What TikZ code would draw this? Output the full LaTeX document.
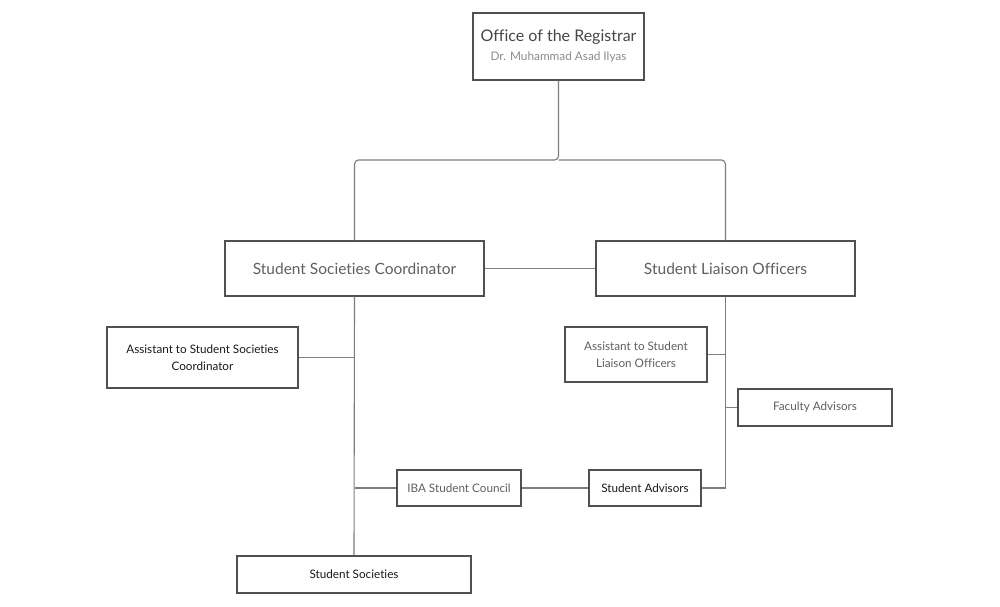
\documentclass[tikz,border=0pt]{standalone}
\usepackage{fontspec}
\setmainfont{Lato}[Ligatures={NoCommon}]
\usetikzlibrary{positioning}
\definecolor{boxline}{RGB}{80,80,80}
\definecolor{linkgray}{RGB}{125,125,125}
\definecolor{textgray}{RGB}{95,95,95}
\definecolor{subgray}{RGB}{140,140,140}
\definecolor{textdark}{RGB}{25,25,25}
\tikzset{
  orgbox/.style={draw=boxline, line width=1.1pt, fill=white, align=center, inner sep=0pt},
  bigtext/.style={font=\fontsize{15.5}{18}\selectfont},
  smalltext/.style={font=\fontsize{11.7}{17}\selectfont},
  link/.style={draw=linkgray, line width=1.1pt},
}

\begin{document}
\begin{tikzpicture}[x=1pt, y=-1pt]
  \useasboundingbox[fill=white] (0,0) rectangle (1000,606);

  % top of the chart
  \node[orgbox, minimum width=171pt, minimum height=67pt] (reg) at (558.5,46.5) {%
    {\fontsize{16}{19}\selectfont\color{textgray!75!black}Office of the Registrar}\\[7pt]
    {\fontsize{11.8}{14}\selectfont\color{subgray}Dr. Muhammad Asad Ilyas}};

  % second level
  \node[orgbox, bigtext, minimum width=259pt, minimum height=55pt, text=textgray] (ssc) at (354.5,268.5) {Student Societies Coordinator};
  \node[orgbox, bigtext, minimum width=259pt, minimum height=55pt, text=textgray] (slo) at (725.5,268.5) {Student Liaison Officers};

  % left branch
  \node[orgbox, smalltext, minimum width=191pt, minimum height=61pt, text=textdark] (asc) at (202.5,357.5) {Assistant to Student Societies\\Coordinator};
  \node[orgbox, smalltext, minimum width=124pt, minimum height=36pt, text=textgray] (iba) at (459,488) {IBA Student Council};
  \node[orgbox, smalltext, minimum width=234pt, minimum height=37pt, text=textdark] (soc) at (354,574.5) {Student Societies};

  % right branch
  \node[orgbox, smalltext, minimum width=142pt, minimum height=55pt, text=textgray] (asl) at (636,354.5) {Assistant to Student\\Liaison Officers};
  \node[orgbox, smalltext, minimum width=154pt, minimum height=37pt, text=textgray] (fac) at (815,407.5) {Faculty Advisors};
  \node[orgbox, smalltext, minimum width=112pt, minimum height=36pt, text=textdark] (adv) at (645,488) {Student Advisors};

  % connectors
  \coordinate (split) at (558.5,160);
  \draw[link, rounded corners=4pt] (reg.south) -- (split) -| (ssc.north);
  \draw[link, rounded corners=4pt] (split) -| (slo.north);
  \draw[link] (ssc) -- (slo);
  \draw[link] (ssc.south) -- (soc.north);
  \draw[link] (asc.east) -- (asc.east -| ssc.south);
  \draw[link] (iba.west -| ssc.south) -- (iba.west);
  \draw[link] (iba) -- (adv);
  \draw[link] (adv.east) -| (slo.south);
  \draw[link] (asl.east) -- (asl.east -| slo.south);
  \draw[link] (fac.west -| slo.south) -- (fac.west);
\end{tikzpicture}
\end{document}
